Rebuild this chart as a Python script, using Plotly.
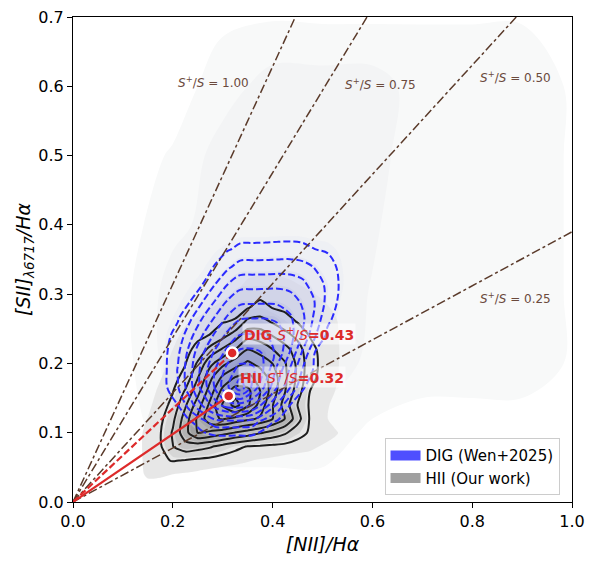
import plotly.graph_objects as go

# S+/S reference lines through the origin: label and slope ([SII]/Ha per [NII]/Ha)
ratio_labels = ["1.00", "0.75", "0.50", "0.25"]
ratio_slopes = [1.571, 1.188, 0.788, 0.390]

# median line ratios of the two samples and their S+/S
dig_point = [0.319, 0.215]
hii_point = [0.312, 0.153]
dig_ratio = "0.43"
hii_ratio = "0.32"

# HII (our work) density grid, levels
hii_x = [0.125, 0.15, 0.175, 0.2, 0.225, 0.25, 0.275, 0.3, 0.325, 0.35, 0.375, 0.4, 0.425, 0.45, 0.475, 0.5, 0.525, 0.55]
hii_y = [0.02, 0.04, 0.06, 0.08, 0.10, 0.12, 0.14, 0.16, 0.18, 0.20, 0.22, 0.24, 0.26, 0.28, 0.30, 0.32, 0.34]
hii_z = [
    [0, 0, 0, 0, 0, 0, 0, 0, 0, 0, 0, 0, 0, 0, 0, 0, 0, 0],
    [0, 0.43, 0.40, 0.30, 0.22, 0.14, 0.04, 0, 0, 0, 0, 0, 0, 0, 0, 0, 0, 0],
    [0, 0.52, 0.84, 1.05, 0.95, 0.8, 0.7, 0.56, 0.44, 0.34, 0.24, 0.16, 0.04, 0, 0, 0, 0, 0],
    [0, 0.56, 0.89, 1.97, 2.6, 2.4, 2.11, 1.62, 1.25, 0.95, 0.86, 0.76, 0.69, 0.58, 0.44, 0.24, 0.06, 0],
    [0, 0.52, 0.95, 2.11, 3.64, 5.05, 4.78, 4.43, 3.96, 3.55, 3.11, 2.67, 2.14, 1.39, 0.88, 0.64, 0.40, 0],
    [0, 0.32, 0.78, 1.75, 3.49, 5.2, 6.7, 7.1, 6.68, 6.24, 5.84, 5.01, 3.97, 2.41, 0.9, 0.48, 0.06, 0],
    [0, 0.16, 0.6, 1.25, 2.85, 4.52, 6.28, 8.1, 9.4, 8.2, 6.6, 5.05, 3.55, 1.97, 0.86, 0.5, 0.14, 0],
    [0, 0, 0.45, 0.95, 2.1, 3.64, 5.5, 7.34, 8.52, 8.28, 7.0, 5.54, 4.04, 2.5, 1.0, 0.64, 0.3, 0],
    [0, 0, 0.25, 0.7, 1.3, 2.94, 4.73, 6.19, 7.02, 7.27, 6.63, 5.55, 4.2, 2.77, 1.3, 0.72, 0.4, 0],
    [0, 0, 0.05, 0.5, 0.95, 2.14, 3.73, 4.7, 5.51, 6.2, 5.66, 4.98, 4.08, 2.76, 1.4, 0.77, 0.44, 0],
    [0, 0, 0, 0.3, 0.7, 1.3, 2.32, 3.14, 4.0, 5.0, 4.6, 4.03, 3.34, 2.5, 1.26, 0.76, 0.46, 0],
    [0, 0, 0, 0.1, 0.5, 0.8, 1.05, 1.7, 2.5, 3.68, 3.53, 2.97, 2.41, 1.7, 0.96, 0.72, 0.42, 0],
    [0, 0, 0, 0, 0.2, 0.42, 0.62, 0.95, 1.1, 2.28, 2.43, 1.9, 1.35, 0.96, 0.8, 0.58, 0.38, 0],
    [0, 0, 0, 0, 0, 0.08, 0.28, 0.48, 0.66, 0.96, 1.3, 0.98, 0.84, 0.72, 0.58, 0.42, 0.22, 0],
    [0, 0, 0, 0, 0, 0, 0, 0.14, 0.32, 0.62, 0.78, 0.72, 0.6, 0.48, 0.36, 0.22, 0.04, 0],
    [0, 0, 0, 0, 0, 0, 0, 0, 0, 0.34, 0.48, 0.48, 0.36, 0.24, 0.12, 0, 0, 0],
    [0, 0, 0, 0, 0, 0, 0, 0, 0, 0, 0, 0, 0, 0, 0, 0, 0, 0],
]

# DIG (Wen+2025) density grid, levels
dig_x = [0.135, 0.16, 0.185, 0.21, 0.235, 0.26, 0.285, 0.31, 0.335, 0.36, 0.385, 0.41, 0.435, 0.46, 0.485, 0.51, 0.535, 0.56, 0.585]
dig_y = [0.065, 0.09, 0.115, 0.14, 0.165, 0.19, 0.215, 0.24, 0.265, 0.29, 0.315, 0.34, 0.365, 0.39, 0.415, 0.44]
dig_z = [
    [0, 0, 0, 0, 0, 0, 0, 0, 0, 0, 0, 0, 0, 0, 0, 0, 0, 0, 0],
    [0, 0, 0, 0.06, 0.32, 0.48, 0.5, 0.52, 0.5, 0.5, 0.36, 0.12, 0, 0, 0, 0, 0, 0, 0],
    [0, 0, 0.32, 0.6, 0.87, 1.58, 2.54, 2.6, 2.6, 2.45, 1.38, 0.78, 0.46, 0.1, 0, 0, 0, 0, 0],
    [0, 0.28, 0.64, 1.0, 2.54, 4.13, 5.51, 6.57, 6.6, 5.99, 4.51, 2.77, 1.0, 0.66, 0.28, 0, 0, 0, 0],
    [0, 0.46, 0.83, 1.9, 3.65, 5.38, 7.12, 8.85, 10.6, 8.69, 6.79, 4.88, 2.98, 1.07, 0.62, 0.22, 0, 0, 0],
    [0, 0.5, 0.86, 2.06, 3.73, 5.42, 7.02, 8.42, 9.44, 9.26, 7.76, 5.64, 3.84, 1.92, 0.8, 0.4, 0.02, 0, 0],
    [0, 0.48, 0.84, 1.8, 3.44, 4.93, 6.22, 7.37, 8.26, 8.3, 7.88, 6.66, 4.93, 2.82, 0.94, 0.54, 0.18, 0, 0],
    [0, 0.42, 0.76, 1.32, 2.73, 4.04, 5.22, 6.29, 7.08, 7.11, 7.07, 6.53, 5.42, 3.88, 2.09, 0.79, 0.34, 0, 0],
    [0, 0.33, 0.64, 0.91, 1.84, 3.05, 4.14, 5.19, 5.92, 5.99, 5.99, 5.8, 5.16, 4.23, 2.73, 1.2, 0.64, 0.18, 0],
    [0, 0.18, 0.46, 0.72, 0.99, 1.96, 3.04, 4.08, 4.74, 4.8, 4.81, 4.78, 4.53, 3.81, 2.96, 1.7, 0.8, 0.42, 0],
    [0, 0, 0.26, 0.54, 0.76, 0.98, 1.97, 2.96, 3.59, 3.62, 3.65, 3.69, 3.55, 3.25, 2.44, 1.8, 0.9, 0.54, 0],
    [0, 0, 0.08, 0.32, 0.52, 0.74, 1.04, 1.77, 2.4, 2.44, 2.44, 2.48, 2.51, 2.34, 1.92, 1.3, 0.86, 0.52, 0],
    [0, 0, 0, 0.08, 0.3, 0.54, 0.74, 0.91, 1.2, 1.22, 1.24, 1.28, 1.3, 1.22, 1.0, 0.91, 0.74, 0.58, 0],
    [0, 0, 0, 0, 0.08, 0.3, 0.5, 0.6, 0.6, 0.6, 0.6, 0.62, 0.62, 0.62, 0.62, 0.62, 0.58, 0.46, 0],
    [0, 0, 0, 0, 0, 0.1, 0.25, 0.35, 0.4, 0.4, 0.4, 0.4, 0.42, 0.42, 0.42, 0.42, 0.4, 0.3, 0],
    [0, 0, 0, 0, 0, 0, 0, 0, 0, 0, 0, 0, 0, 0, 0, 0, 0, 0, 0],
]

# faint outer tail of the density (lowest filled levels)
bg_x = [0.0, 0.1, 0.2, 0.3, 0.4, 0.5, 0.6, 0.7, 0.8, 0.9, 1.0]
bg_y = [0.0, 0.1, 0.2, 0.3, 0.4, 0.5, 0.6, 0.7]
bg_z = [
    [0, 0, 0, 0, 0, 0, 0, 0, 0, 0, 0],
    [0, 0, 1, 1, 1, 1, 0.3, 0, 0, 0, 0],
    [0, 0.1, 2, 2, 2, 2, 1.3, 1, 1, 1, 0.4],
    [0, 0.2, 2, 2, 2, 2, 1.45, 1, 1, 1, 0.4],
    [0, 0, 1.2, 2, 2, 2, 1.6, 1, 1, 1, 0.4],
    [0, 0, 0.6, 2, 2, 2, 1.8, 1, 1, 1, 0.4],
    [0, 0, 0, 1, 2, 2, 2, 1, 1, 1, 0.4],
    [0, 0, 0, 0.3, 0.4, 0.33, 0.33, 0.44, 0.44, 0.44, 0.3],
]

FONT = "DejaVu Sans"
RED = "#dd2a2a"
BROWN = "#5a3a2a"

fig = go.Figure()

# filled density levels
fig.add_trace(go.Contour(
    x=bg_x, y=bg_y, z=bg_z, showscale=False, hoverinfo="skip",
    contours=dict(start=0.5, end=1.5, size=1, coloring="fill", showlines=False),
    colorscale=[[0, "rgba(255,255,255,0)"], [0.5, "#f8f9f9"], [1, "#f3f4f5"]],
    line=dict(width=0),
))
fig.add_trace(go.Contour(
    x=hii_x, y=hii_y, z=hii_z, showscale=False, hoverinfo="skip",
    contours=dict(start=0.3, end=9.3, size=1, coloring="fill", showlines=False),
    colorscale=[[0, "rgba(255,255,255,0)"], [0.1, "rgba(230,230,230,0.95)"],
                [1, "rgba(75,75,75,0.95)"]],
    line=dict(width=0, smoothing=0.8),
))
fig.add_trace(go.Contour(
    x=dig_x, y=dig_y, z=dig_z, showscale=False, hoverinfo="skip",
    contours=dict(start=0.8, end=10.8, size=1, coloring="fill", showlines=False),
    colorscale=[[0, "rgba(255,255,255,0)"], [0.09, "rgba(225,228,242,0.25)"],
                [1, "rgba(80,90,190,0.15)"]],
    line=dict(width=0, smoothing=1),
))

# contour lines
fig.add_trace(go.Contour(
    x=hii_x, y=hii_y, z=hii_z, showscale=False, hoverinfo="skip",
    contours=dict(start=1, end=9, size=1, coloring="lines"),
    colorscale=[[0, "#1e1e1e"], [1, "#1e1e1e"]],
    line=dict(width=2, smoothing=0.6),
))
fig.add_trace(go.Contour(
    x=dig_x, y=dig_y, z=dig_z, showscale=False, hoverinfo="skip",
    contours=dict(start=1, end=10, size=1, coloring="lines"),
    colorscale=[[0, "#2b2bff"], [1, "#2b2bff"]],
    line=dict(width=2, smoothing=1, dash="7px,3px"),
))

# S+/S lines from the origin
for s in ratio_slopes:
    fig.add_trace(go.Scatter(
        x=[0, 1], y=[0, s], mode="lines", showlegend=False, hoverinfo="skip",
        line=dict(color=BROWN, width=1.5, dash="dashdot"),
    ))

# lines from the origin to the two medians
fig.add_trace(go.Scatter(
    x=[0, dig_point[0]], y=[0, dig_point[1]], mode="lines", showlegend=False,
    line=dict(color=RED, width=2.2, dash="7px,3px"), hoverinfo="skip",
))
fig.add_trace(go.Scatter(
    x=[0, hii_point[0]], y=[0, hii_point[1]], mode="lines", showlegend=False,
    line=dict(color=RED, width=2.2), hoverinfo="skip",
))
fig.add_trace(go.Scatter(
    x=[dig_point[0], hii_point[0]], y=[dig_point[1], hii_point[1]], mode="markers",
    showlegend=False, marker=dict(color=RED, size=11, line=dict(color="white", width=2.5)),
))

# legend entries
fig.add_trace(go.Scatter(
    x=[None], y=[None], mode="lines", name="DIG (Wen+2025)",
    line=dict(color="rgba(60,60,255,0.9)", width=12),
))
fig.add_trace(go.Scatter(
    x=[None], y=[None], mode="lines", name="HII (Our work)",
    line=dict(color="rgba(155,155,155,0.95)", width=12),
))

# labels of the S+/S lines
label_pos = [(0.281, 0.606), (0.616, 0.603), (0.886, 0.614), (0.886, 0.294)]
for lab, (lx, ly) in zip(ratio_labels, label_pos):
    fig.add_annotation(
        x=lx, y=ly, text="<i>S</i><sup>+</sup>/<i>S</i> = " + lab, showarrow=False,
        font=dict(family=FONT, size=12, color="#6b4a3d"),
    )

for name, val, (px, py) in [("DIG", dig_ratio, (0.338, 0.242)),
                            ("HII", hii_ratio, (0.331, 0.181))]:
    fig.add_annotation(
        x=px, y=py, xanchor="left", showarrow=False,
        text="<b>" + name + " </b><i>S</i><sup>+</sup>/<i>S</i><b>=" + val + "</b>",
        font=dict(family=FONT, size=14, color=RED),
        bgcolor="rgba(255,255,255,0.55)", borderpad=1,
    )

axis_common = dict(
    showline=True, linecolor="black", linewidth=1.2, mirror=True,
    ticks="outside", ticklen=5, tickwidth=1.2, tickcolor="black",
    showgrid=False, zeroline=False, tickformat=".1f", automargin=False,
    ticklabeloverflow="allow",
    tickfont=dict(family=FONT, size=16, color="black"),
)

# the page adds an 8 px body margin, the plot margins account for it
fig.update_layout(
    width=595, height=565,
    margin=dict(l=65, r=31, t=9, b=71),
    paper_bgcolor="white", plot_bgcolor="white",
    font=dict(family=FONT, color="black"),
    xaxis=dict(range=[0, 1], tickvals=[0, 0.2, 0.4, 0.6, 0.8, 1.0],
               title=dict(text="<i>[NII]/Hα</i>", font=dict(family=FONT, size=19), standoff=7),
               **axis_common),
    yaxis=dict(range=[0, 0.7], tickvals=[0, 0.1, 0.2, 0.3, 0.4, 0.5, 0.6, 0.7],
               title=dict(text="<i>[SII]</i><sub><i>λ6717</i></sub><i>/Hα</i>",
                          font=dict(family=FONT, size=19), standoff=2),
               **axis_common),
    legend=dict(x=0.975, y=0.014, xanchor="right", yanchor="bottom",
                bgcolor="rgba(255,255,255,0.85)", bordercolor="#cccccc", borderwidth=1,
                font=dict(family=FONT, size=15), itemwidth=30),
    showlegend=True,
)

fig.write_html("out.html")
